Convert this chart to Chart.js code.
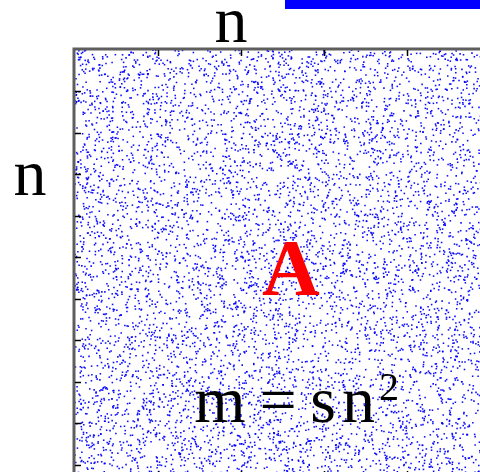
<!DOCTYPE html>
<html>
<head>
<meta charset="utf-8">
<script src="https://cdn.jsdelivr.net/npm/chart.js@4/dist/chart.umd.min.js"></script>
<style>
  html, body { margin: 0; padding: 0; background: #fff; overflow: hidden; }
  #wrap { position: absolute; left: 0; top: 0; width: 520px; height: 520px; }
</style>
</head>
<body>
<div id="wrap"><canvas id="spy"></canvas></div>
<script>
// matrix size (axis range) and tick positions
const matrixSize = 1030;
const xTicks = [200, 400, 600, 800];
const yTicks = [100, 200, 300, 400, 500, 600, 700, 800, 900, 1000];
// number of nonzeros shown (estimated from dot density in the picture)
const nonzeroCount = 7200;
// labels
const topLabel = 'n';
const sideLabel = 'n';
const matrixLabel = 'A';
const formulaParts = ['m', '=', 's', 'n'];
const formulaExp = '2';

// the nonzero pattern is uniform random; individual dot positions can not be read off
// the picture, so a fixed-seed sequence stands in for them
function seeded(a) {
  return function() {
    a |= 0; a = a + 0x6D2B79F5 | 0;
    let t = Math.imul(a ^ a >>> 15, 1 | a);
    t = t + Math.imul(t ^ t >>> 7, 61 | t) ^ t;
    return ((t ^ t >>> 14) >>> 0) / 4294967296;
  };
}
const rnd = seeded(20240611);
const nonzeros = [];
for (let i = 0; i < nonzeroCount; i++) {
  nonzeros.push({ x: rnd() * matrixSize, y: rnd() * matrixSize });
}

const serif = '"Liberation Serif", "Times New Roman", serif';

const decor = {
  id: 'decor',
  beforeDraw(chart) {
    const ctx = chart.ctx;
    ctx.save();
    ctx.fillStyle = '#0000ff';
    ctx.fillRect(285, 0, 240, 9);
    ctx.restore();
  },
  afterDatasetsDraw(chart) {
    const ctx = chart.ctx;
    const a = chart.chartArea;
    const xs = chart.scales.x, ys = chart.scales.y;
    ctx.save();
    // frame
    ctx.strokeStyle = '#5e5e5e';
    ctx.lineWidth = 3;
    ctx.strokeRect(a.left - 1, a.top - 1, a.right - a.left + 2, a.bottom - a.top + 2);
    // inward ticks
    ctx.strokeStyle = '#000';
    ctx.lineWidth = 1.5;
    ctx.beginPath();
    xTicks.forEach(v => {
      const px = Math.round(xs.getPixelForValue(v)) + 0.5;
      ctx.moveTo(px, a.top); ctx.lineTo(px, a.top + 6);
      ctx.moveTo(px, a.bottom); ctx.lineTo(px, a.bottom - 6);
    });
    yTicks.forEach(v => {
      const py = Math.round(ys.getPixelForValue(v)) + 0.5;
      ctx.moveTo(a.left, py); ctx.lineTo(a.left + 6, py);
    });
    ctx.stroke();
    // labels
    ctx.fillStyle = '#000';
    ctx.textAlign = 'center';
    ctx.textBaseline = 'alphabetic';
    ctx.font = '66px ' + serif;
    ctx.fillText(topLabel, 231, 42);
    ctx.fillText(sideLabel, 30, 195);
    ctx.fillStyle = '#ff0000';
    ctx.font = 'bold 80px ' + serif;
    ctx.fillText(matrixLabel, 291, 295);
    ctx.fillStyle = '#000';
    ctx.font = '66px ' + serif;
    const centers = [220, 278, 323, 358.5];
    formulaParts.forEach((t, i) => ctx.fillText(t, centers[i], 422));
    ctx.font = '40px ' + serif;
    ctx.fillText(formulaExp, 389, 400);
    ctx.restore();
  }
};

new Chart(document.getElementById('spy'), {
  type: 'scatter',
  data: {
    datasets: [{
      data: nonzeros,
      pointStyle: 'rect',
      pointRadius: 1.1,
      borderWidth: 0,
      backgroundColor: 'rgba(0,0,255,0.95)'
    }]
  },
  options: {
    responsive: true,
    maintainAspectRatio: false,
    animation: false,
    devicePixelRatio: 1,
    layout: { padding: { left: 75, top: 50, right: 18, bottom: 43 } },
    plugins: { legend: { display: false }, tooltip: { enabled: false } },
    scales: {
      x: { type: 'linear', min: 0, max: matrixSize, display: false },
      y: { type: 'linear', min: 0, max: matrixSize, reverse: true, display: false }
    }
  },
  plugins: [decor]
});
</script>
</body>
</html>
